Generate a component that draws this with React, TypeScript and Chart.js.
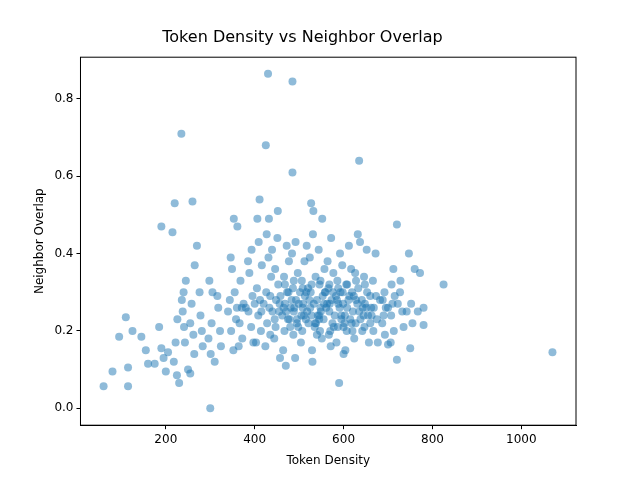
import { useEffect, useRef } from "react";
import Chart from "chart.js/auto";

const xTicks = [200, 400, 600, 800, 1000];
const yTicks = [0.0, 0.2, 0.4, 0.6, 0.8];

// sparse points away from the main cluster
const outlierDensity = [60, 80, 95, 110, 115, 115, 125, 145, 155, 160, 175, 185, 190, 190, 195, 200, 205, 215, 220, 225, 230, 235, 240, 245, 250, 255, 260, 265, 270, 300, 310, 430, 485, 425, 485, 635, 1070, 825, 780, 760, 720, 590, 720, 750, 780, 700, 470, 530, 600];
const outlierOverlap = [0.057, 0.095, 0.185, 0.235, 0.057, 0.105, 0.2, 0.185, 0.15, 0.115, 0.115, 0.21, 0.47, 0.155, 0.13, 0.095, 0.145, 0.455, 0.53, 0.085, 0.065, 0.71, 0.3, 0.33, 0.1, 0.09, 0.535, 0.37, 0.42, 0.0, 0.12, 0.865, 0.845, 0.68, 0.61, 0.64, 0.145, 0.32, 0.26, 0.36, 0.475, 0.065, 0.125, 0.155, 0.215, 0.165, 0.11, 0.12, 0.14];

// dense cluster points
const clusterDensity = [
  222, 218, 226, 238, 243, 236, 241, 258, 262, 255, 264, 278, 283, 276, 281, 298, 303, 296, 301, 305, 318, 322, 316, 324,
  352, 347, 358, 344, 355, 349, 361, 353, 346, 372, 366, 375, 368, 371, 364,
  392, 386, 395, 388, 393, 397, 385, 411, 406, 414, 408, 412, 405, 416, 409, 403,
  432, 427, 435, 428, 433, 426, 437, 431, 424, 439, 452, 447, 455, 448, 453, 446, 457, 444, 451,
  472, 467, 475, 468, 473, 466, 477, 464, 471, 492, 487, 495, 488, 493, 486, 497, 484, 491, 489,
  512, 507, 515, 508, 513, 506, 517, 504, 511, 509, 532, 527, 535, 528, 533, 526, 537, 524, 531, 529, 536, 523,
  552, 547, 555, 548, 553, 546, 557, 544, 551, 549, 556, 572, 567, 575, 568, 573, 566, 577, 564, 571, 569, 576,
  592, 587, 595, 588, 593, 586, 597, 584, 591, 612, 607, 615, 608, 613, 606, 617, 604, 611,
  632, 637, 627, 635, 628, 633, 626, 624, 631, 652, 647, 655, 648, 653, 646, 657, 651,
  672, 667, 675, 668, 673, 666, 677, 692, 687, 695, 688, 693, 712, 707, 715, 708, 713, 706,
  732, 727, 735, 728, 752, 747, 755, 772, 767,
  // core fill
  462, 481, 499, 518, 540, 561, 580, 599, 621, 641, 662, 458, 478, 502, 521, 542, 559, 583, 602, 619, 638, 660,
  465, 483, 505, 525, 545, 563, 585, 603, 623, 643, 456, 476, 498, 516, 538, 558, 578, 598, 618, 642, 663,
  420, 440, 380, 400, 682, 700, 722, 742, 468, 488, 508, 528, 548, 568, 588, 608, 628, 648,
  445, 495, 545, 595, 645, 520, 570, 620, 480, 540, 600, 660, 415, 435, 690, 710, 360, 340,
];
const clusterOverlap = [
  0.17, 0.12, 0.23, 0.25, 0.17, 0.28, 0.21, 0.27, 0.19, 0.22, 0.14, 0.24, 0.16, 0.3, 0.2, 0.33, 0.22, 0.18, 0.14, 0.3, 0.26, 0.2, 0.29, 0.16,
  0.15, 0.2, 0.23, 0.28, 0.3, 0.36, 0.47, 0.49, 0.39, 0.18, 0.22, 0.27, 0.33, 0.26, 0.16,
  0.21, 0.25, 0.29, 0.35, 0.41, 0.17, 0.38, 0.54, 0.49, 0.2, 0.24, 0.28, 0.31, 0.37, 0.43, 0.17,
  0.49, 0.45, 0.19, 0.22, 0.26, 0.3, 0.34, 0.39, 0.16, 0.41, 0.51, 0.21, 0.25, 0.28, 0.32, 0.36, 0.13, 0.18, 0.44,
  0.42, 0.2, 0.23, 0.27, 0.3, 0.34, 0.38, 0.15, 0.25, 0.43, 0.19, 0.22, 0.25, 0.28, 0.31, 0.35, 0.4, 0.13, 0.26,
  0.38, 0.2, 0.23, 0.26, 0.29, 0.33, 0.42, 0.17, 0.24, 0.27, 0.51, 0.53, 0.21, 0.24, 0.27, 0.3, 0.34, 0.39, 0.45, 0.15, 0.22, 0.28,
  0.49, 0.2, 0.23, 0.26, 0.29, 0.32, 0.36, 0.41, 0.18, 0.25, 0.27, 0.44, 0.19, 0.22, 0.25, 0.28, 0.31, 0.35, 0.38, 0.16, 0.27, 0.3,
  0.4, 0.21, 0.24, 0.27, 0.3, 0.33, 0.37, 0.17, 0.26, 0.42, 0.2, 0.23, 0.26, 0.29, 0.32, 0.36, 0.15, 0.28,
  0.45, 0.43, 0.22, 0.25, 0.28, 0.31, 0.35, 0.18, 0.27, 0.41, 0.21, 0.24, 0.27, 0.3, 0.34, 0.17, 0.26,
  0.4, 0.2, 0.23, 0.26, 0.29, 0.33, 0.17, 0.3, 0.22, 0.26, 0.28, 0.19, 0.36, 0.24, 0.29, 0.32, 0.2, 0.17,
  0.25, 0.3, 0.21, 0.33, 0.27, 0.4, 0.22, 0.35, 0.25,
  0.24, 0.26, 0.27, 0.25, 0.28, 0.26, 0.24, 0.27, 0.25, 0.28, 0.26, 0.29, 0.23, 0.3, 0.22, 0.24, 0.3, 0.29, 0.22, 0.3, 0.23, 0.29,
  0.26, 0.28, 0.24, 0.26, 0.23, 0.27, 0.28, 0.24, 0.29, 0.26, 0.27, 0.3, 0.21, 0.3, 0.22, 0.3, 0.21, 0.3, 0.22, 0.2, 0.24,
  0.27, 0.25, 0.26, 0.27, 0.28, 0.26, 0.27, 0.25, 0.32, 0.33, 0.31, 0.32, 0.33, 0.32, 0.31, 0.32, 0.33, 0.32,
  0.23, 0.23, 0.24, 0.23, 0.24, 0.31, 0.2, 0.2, 0.21, 0.19, 0.21, 0.22, 0.25, 0.29, 0.24, 0.27, 0.26, 0.25,
];

const FONT = "'DejaVu Sans', sans-serif";

const frame = {
  id: "frame",
  afterDraw(chart: Chart) {
    const { ctx, chartArea: a } = chart;
    ctx.save();
    ctx.strokeStyle = "#000";
    ctx.lineWidth = 1;
    ctx.strokeRect(a.left, a.top, a.right - a.left, a.bottom - a.top);
    ctx.restore();
  },
};

const App = () => {
  const chartRef = useRef<HTMLCanvasElement>(null);
  const chartInstance = useRef<Chart | null>(null);

  useEffect(() => {
    if (!chartRef.current) return;
    if (chartInstance.current) chartInstance.current.destroy();

    const points = [
      ...outlierDensity.map((x, i) => ({ x, y: outlierOverlap[i] })),
      ...clusterDensity.map((x, i) => ({ x, y: clusterOverlap[i] })),
    ];

    chartInstance.current = new Chart(chartRef.current, {
      type: "scatter",
      data: {
        datasets: [
          {
            data: points,
            backgroundColor: "rgba(31, 119, 180, 0.5)",
            borderColor: "rgba(31, 119, 180, 0.5)",
            borderWidth: 0,
            pointRadius: 4,
          },
        ],
      },
      options: {
        animation: false,
        responsive: false,
        layout: { padding: { left: 29, right: 64, top: 4, bottom: 8 } },
        plugins: {
          legend: { display: false },
          tooltip: { enabled: false },
          title: {
            display: true,
            text: "Token Density vs Neighbor Overlap",
            color: "#000",
            font: { family: FONT, size: 16, weight: "normal" },
            padding: { top: 24, bottom: 10 },
          },
        },
        scales: {
          x: {
            min: 8,
            max: 1123,
            afterBuildTicks: (axis) => {
              axis.ticks = xTicks.map((value) => ({ value }));
            },
            grid: { drawOnChartArea: false, color: "#000", tickLength: 4 },
            border: { color: "#000" },
            ticks: {
              color: "#000",
              font: { family: FONT, size: 12 },
              maxRotation: 0,
              callback: (v) => String(v),
            },
            title: { display: true, text: "Token Density", color: "#000", font: { family: FONT, size: 12 } },
          },
          y: {
            min: -0.044,
            max: 0.908,
            afterBuildTicks: (axis) => {
              axis.ticks = yTicks.map((value) => ({ value }));
            },
            grid: { drawOnChartArea: false, color: "#000", tickLength: 4 },
            border: { color: "#000" },
            ticks: {
              color: "#000",
              font: { family: FONT, size: 12 },
              callback: (v) => Number(v).toFixed(1),
            },
            title: { display: true, text: "Neighbor Overlap", color: "#000", font: { family: FONT, size: 12 } },
          },
        },
      },
      plugins: [frame],
    });

    return () => {
      if (chartInstance.current) {
        chartInstance.current.destroy();
        chartInstance.current = null;
      }
    };
  }, []);

  return (
    <div style={{ position: "fixed", left: 0, top: 0, width: 640, height: 480, background: "#fff" }}>
      <canvas ref={chartRef} width={640} height={480} />
    </div>
  );
};

export default App;
